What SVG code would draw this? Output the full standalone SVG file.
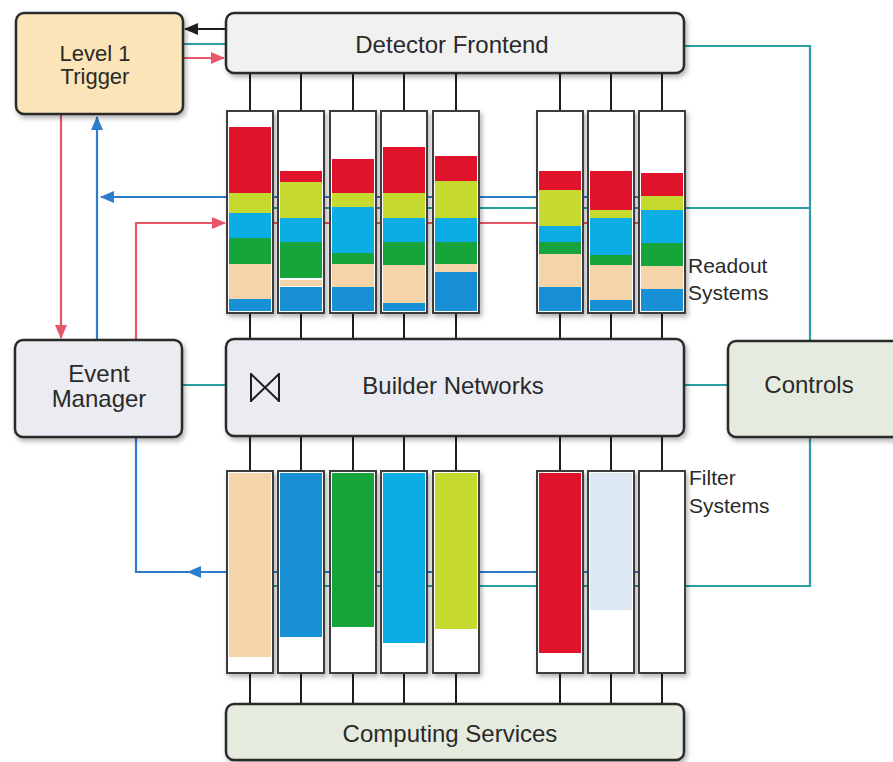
<svg xmlns="http://www.w3.org/2000/svg" width="893" height="762" viewBox="0 0 893 762">
<defs>
<style>
.box{stroke:#2b2b2b;stroke-width:2.5}
.col{fill:#fff;stroke:#3c3c3c;stroke-width:2}
.lbl{font-family:"Liberation Sans",Arial,sans-serif;fill:#2a2a2a;font-size:24px;text-anchor:middle}
.sm{font-size:22px}
.side{font-family:"Liberation Sans",Arial,sans-serif;fill:#2a2a2a;font-size:21px}
.tick{stroke:#1e1e1e;stroke-width:2}
.red{fill:#e1132c}.lime{fill:#c5d92e}.cyan{fill:#0cade4}.green{fill:#17a43b}.peach{fill:#f5d4a9}.blue{fill:#1790d6}.pale{fill:#dce8f3}
.cr{stroke:#e8566a;stroke-width:2.2;fill:none}
.cb{stroke:#2c7dcb;stroke-width:2.2;fill:none}
.ct{stroke:#2a9ea0;stroke-width:2.2;fill:none}
.ck{stroke:#1e1e1e;stroke-width:2.2;fill:none}
</style>
<filter id="sh" x="-10%" y="-10%" width="130%" height="140%">
<feDropShadow dx="2" dy="3" stdDeviation="2.5" flood-color="#000" flood-opacity="0.3"/>
</filter>
<marker id="aR" markerWidth="14" markerHeight="12" refX="13" refY="6" orient="auto" markerUnits="userSpaceOnUse"><path d="M0,0 L14,6 L0,12 z" fill="#e8566a"/></marker>
<marker id="aB" markerWidth="14" markerHeight="12" refX="13" refY="6" orient="auto" markerUnits="userSpaceOnUse"><path d="M0,0 L14,6 L0,12 z" fill="#2c7dcb"/></marker>
<marker id="aK" markerWidth="14" markerHeight="12" refX="13" refY="6" orient="auto" markerUnits="userSpaceOnUse"><path d="M0,0 L14,6 L0,12 z" fill="#1e1e1e"/></marker>
</defs>
<rect width="893" height="762" fill="#fff"/>

<g id="connectors">
  <!-- L1 <-> Detector Frontend -->
  <path class="ck" d="M226 29 H185" marker-end="url(#aK)"/>
  <path class="ct" d="M183 44 H226"/>
  <path class="cr" d="M183 58 H224" marker-end="url(#aR)"/>
  <!-- L1 <-> Event Manager -->
  <path class="cr" d="M61 114 V338" marker-end="url(#aR)"/>
  <path class="cb" d="M97 340 V117" marker-end="url(#aB)"/>
  <!-- readout horizontal lines -->
  <path class="cb" d="M686 197 H101" marker-end="url(#aB)"/>
  <path class="ct" d="M227 208 H810"/>
  <path class="cr" d="M136 340 V223 H225" marker-end="url(#aR)"/>
  <path class="cr" d="M227 223 H686"/>
  <!-- frontend to controls -->
  <path class="ct" d="M684 46 H810 V341"/>
  <!-- builder links -->
  <path class="ct" d="M182 385 H226"/>
  <path class="ct" d="M684 385 H728"/>
  <!-- controls to filter -->
  <path class="ct" d="M810 437 V586 H227"/>
  <!-- filter to event manager -->
  <path class="cb" d="M686 572 H188" marker-end="url(#aB)"/>
  <path class="cb" d="M192 572 H136 V437"/>
  <!-- vertical ticks -->
  <g class="tick">
    <path d="M250 73V111M301 73V111M353 73V111M404 73V111M456 73V111M560 73V111M611 73V111M662 73V111"/>
    <path d="M250 313V339M301 313V339M353 313V339M404 313V339M456 313V339M560 313V339M611 313V339M662 313V339"/>
    <path d="M250 436V471M301 436V471M353 436V471M404 436V471M456 436V471M560 436V471M611 436V471M662 436V471"/>
    <path d="M250 673V704M301 673V704M353 673V704M404 673V704M456 673V704M560 673V704M611 673V704M662 673V704"/>
  </g>
</g>

<g id="level1-trigger">
  <rect class="box" x="16" y="13" width="167" height="101" rx="8" fill="#fbe4b7" filter="url(#sh)"/>
  <text class="lbl sm" x="95" y="61">Level 1</text>
  <text class="lbl sm" x="95" y="84">Trigger</text>
</g>
<g id="detector-frontend">
  <rect class="box" x="226" y="13" width="458" height="60" rx="8" fill="#f1f1f1" filter="url(#sh)"/>
  <text class="lbl" x="452" y="53">Detector Frontend</text>
</g>
<g id="event-manager">
  <rect class="box" x="15" y="340" width="167" height="97" rx="8" fill="#ebecf2" filter="url(#sh)"/>
  <text class="lbl" x="99" y="382">Event</text>
  <text class="lbl" x="99" y="407">Manager</text>
</g>
<g id="builder-networks">
  <rect class="box" x="226" y="339" width="458" height="97" rx="8" fill="#ebecf2" filter="url(#sh)"/>
  <g stroke="#1e1e1e" stroke-width="2" fill="none">
    <path d="M251 373V402M279 373V402M251 374L279 401M251 401L279 374"/>
  </g>
  <text class="lbl" x="453" y="394">Builder Networks</text>
</g>
<g id="controls">
  <rect class="box" x="728" y="341" width="190" height="96" rx="8" fill="#e5ecdf" filter="url(#sh)"/>
  <text class="lbl" x="809" y="393">Controls</text>
</g>
<g id="computing-services">
  <rect class="box" x="226" y="704" width="458" height="56" rx="8" fill="#e5ecdf" filter="url(#sh)"/>
  <text class="lbl" x="450" y="742">Computing Services</text>
</g>

<g id="readout-systems">
  <g id="ro1"><rect class="col" x="227" y="111" width="46" height="202" filter="url(#sh)"/>
    <rect class="red" x="229" y="127" width="42" height="66"/><rect class="lime" x="229" y="193" width="42" height="20"/><rect class="cyan" x="229" y="213" width="42" height="25"/><rect class="green" x="229" y="238" width="42" height="26"/><rect class="peach" x="229" y="264" width="42" height="35"/><rect class="blue" x="229" y="299" width="42" height="12"/></g>
  <g id="ro2"><rect class="col" x="278" y="111" width="46" height="202" filter="url(#sh)"/>
    <rect class="red" x="280" y="171" width="42" height="11"/><rect class="lime" x="280" y="182" width="42" height="36"/><rect class="cyan" x="280" y="218" width="42" height="24"/><rect class="green" x="280" y="242" width="42" height="36"/><rect class="peach" x="280" y="280" width="42" height="6"/><rect class="blue" x="280" y="287" width="42" height="24"/></g>
  <g id="ro3"><rect class="col" x="330" y="111" width="46" height="202" filter="url(#sh)"/>
    <rect class="red" x="332" y="159" width="42" height="34"/><rect class="lime" x="332" y="193" width="42" height="14"/><rect class="cyan" x="332" y="207" width="42" height="46"/><rect class="green" x="332" y="253" width="42" height="11"/><rect class="peach" x="332" y="264" width="42" height="23"/><rect class="blue" x="332" y="287" width="42" height="24"/></g>
  <g id="ro4"><rect class="col" x="381" y="111" width="46" height="202" filter="url(#sh)"/>
    <rect class="red" x="383" y="147" width="42" height="46"/><rect class="lime" x="383" y="193" width="42" height="25"/><rect class="cyan" x="383" y="218" width="42" height="24"/><rect class="green" x="383" y="242" width="42" height="23"/><rect class="peach" x="383" y="265" width="42" height="38"/><rect class="blue" x="383" y="303" width="42" height="8"/></g>
  <g id="ro5"><rect class="col" x="433" y="111" width="46" height="202" filter="url(#sh)"/>
    <rect class="red" x="435" y="156" width="42" height="25"/><rect class="lime" x="435" y="181" width="42" height="37"/><rect class="cyan" x="435" y="218" width="42" height="24"/><rect class="green" x="435" y="242" width="42" height="22"/><rect class="peach" x="435" y="264" width="42" height="8"/><rect class="blue" x="435" y="272" width="42" height="39"/></g>
  <g id="ro6"><rect class="col" x="537" y="111" width="46" height="202" filter="url(#sh)"/>
    <rect class="red" x="539" y="171" width="42" height="19"/><rect class="lime" x="539" y="190" width="42" height="36"/><rect class="cyan" x="539" y="226" width="42" height="16"/><rect class="green" x="539" y="242" width="42" height="12"/><rect class="peach" x="539" y="254" width="42" height="33"/><rect class="blue" x="539" y="287" width="42" height="24"/></g>
  <g id="ro7"><rect class="col" x="588" y="111" width="46" height="202" filter="url(#sh)"/>
    <rect class="red" x="590" y="171" width="42" height="39"/><rect class="lime" x="590" y="210" width="42" height="8"/><rect class="cyan" x="590" y="218" width="42" height="37"/><rect class="green" x="590" y="255" width="42" height="10"/><rect class="peach" x="590" y="265" width="42" height="35"/><rect class="blue" x="590" y="300" width="42" height="11"/></g>
  <g id="ro8"><rect class="col" x="639" y="111" width="46" height="202" filter="url(#sh)"/>
    <rect class="red" x="641" y="173" width="42" height="23"/><rect class="lime" x="641" y="196" width="42" height="14"/><rect class="cyan" x="641" y="210" width="42" height="33"/><rect class="green" x="641" y="243" width="42" height="23"/><rect class="peach" x="641" y="266" width="42" height="23"/><rect class="blue" x="641" y="289" width="42" height="22"/></g>
  <text class="side" x="688" y="273">Readout</text>
  <text class="side" x="688" y="300">Systems</text>
</g>

<g id="filter-systems">
  <g id="fs1"><rect class="col" x="227" y="471" width="46" height="202" filter="url(#sh)"/><rect class="peach" x="229" y="473" width="42" height="184"/></g>
  <g id="fs2"><rect class="col" x="278" y="471" width="46" height="202" filter="url(#sh)"/><rect class="blue" x="280" y="473" width="42" height="164"/></g>
  <g id="fs3"><rect class="col" x="330" y="471" width="46" height="202" filter="url(#sh)"/><rect class="green" x="332" y="473" width="42" height="154"/></g>
  <g id="fs4"><rect class="col" x="381" y="471" width="46" height="202" filter="url(#sh)"/><rect class="cyan" x="383" y="473" width="42" height="170"/></g>
  <g id="fs5"><rect class="col" x="433" y="471" width="46" height="202" filter="url(#sh)"/><rect class="lime" x="435" y="473" width="42" height="156"/></g>
  <g id="fs6"><rect class="col" x="537" y="471" width="46" height="202" filter="url(#sh)"/><rect class="red" x="539" y="473" width="42" height="180"/></g>
  <g id="fs7"><rect class="col" x="588" y="471" width="46" height="202" filter="url(#sh)"/><rect class="pale" x="590" y="473" width="42" height="137"/></g>
  <g id="fs8"><rect class="col" x="639" y="471" width="46" height="202" filter="url(#sh)"/></g>
  <text class="side" x="689" y="485">Filter</text>
  <text class="side" x="689" y="513">Systems</text>
</g>
</svg>
